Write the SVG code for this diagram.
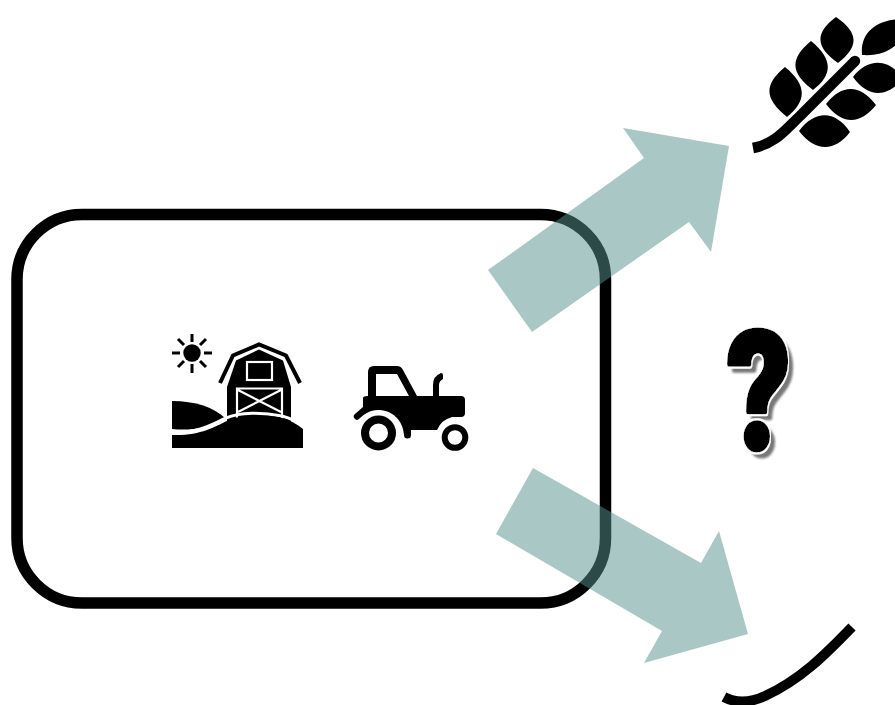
<svg xmlns="http://www.w3.org/2000/svg" width="895" height="705" viewBox="0 0 895 705">
<defs>
<style>
.ink{fill:#000}
.gap{fill:none;stroke:#fff;stroke-width:2.2}
.ray{stroke:#000;stroke-width:3;fill:none}
.arrow{fill:#56918b;fill-opacity:.51}
.q{font-family:"Roboto",sans-serif;font-weight:900;font-size:166px;stroke:#000;stroke-width:5px;stroke-linejoin:round}
</style>
<filter id="soft" x="-5%" y="-5%" width="110%" height="110%"><feGaussianBlur stdDeviation=".45"/></filter>
<filter id="qshadow" x="-30%" y="-20%" width="160%" height="140%">
<feMorphology in="SourceAlpha" operator="dilate" radius="1.500" result="halo"/>
<feFlood flood-color="#fff" result="w"/>
<feComposite in="w" in2="halo" operator="in" result="white"/>
<feOffset in="SourceAlpha" dx="7" dy="6" result="off"/>
<feGaussianBlur in="off" stdDeviation="1.300" result="bl"/>
<feFlood flood-color="#777" result="g"/>
<feComposite in="g" in2="bl" operator="in" result="grey"/>
<feMerge><feMergeNode in="grey"/><feMergeNode in="white"/><feMergeNode in="SourceGraphic"/></feMerge>
</filter>
</defs>
<rect width="895" height="705" fill="#fff"/>
<g id="farm-boundary"><rect x="17" y="214.5" width="588.5" height="388.5" rx="65" ry="65" fill="none" stroke="#000" stroke-width="11.5"/></g>
<g id="barn-icon" filter="url(#soft)">
<circle class="ink" cx="192" cy="353" r="8.700"/>
<path class="ray" d="M172 353H180M204 353H212M192 334V342M192 364V373M178 339L184 345M206 339L200 345M178 367L184 361M206 367L200 361"/>
<path d="M220 383L233 355.500L259 344.500L286 355.500L300 383" fill="none" stroke="#000" stroke-width="4"/>
<path class="ink" d="M227 425V387L236 360.500L259 349.500L283 360.500L291 387V425Z"/>
<rect class="gap" x="247" y="362" width="25" height="18"/>
<path class="gap" d="M237 420V388.500H282V420M238 390L281 412M281 390L238 412"/>
<path class="ink" d="M172 401C195 401 214 407 226 419C210 428 190 431 172 429Z"/>
<path d="M172 432C200 433 212 424 226 418C240 412 262 412 282 416C290 418 298 422 306 428" fill="none" stroke="#fff" stroke-width="3"/>
<path class="ink" d="M172 435C200 436 214 427 227 421C240 415 262 414 282 418C290 420 297 424 303 429V448H172Z"/>
</g>
<g id="tractor-icon" filter="url(#soft)">
<path class="ink" fill-rule="evenodd" d="M368 396V372Q368 366 374 366H397Q401 366 403 370L417 396H461Q465 396 465 400V413Q465 417 461 417H452Q441 420 437 430H411V435A3.500 3.500 0 0 1 404 435C403 420 392 410 378 410C370 410 364 414 359 419A3 3 0 0 1 355 414L363 407V398Q363 396 368 396ZM376 374V396H409L397 374Z"/>
<path class="ink" d="M433 397V385Q433 376 441 373Q443 373 443 375V379Q439 381 439 385V397Z"/>
<circle cx="378.500" cy="433" r="13.500" fill="none" stroke="#000" stroke-width="8"/>
<circle cx="455" cy="437.500" r="10.300" fill="none" stroke="#000" stroke-width="6"/>
</g>
<g id="wheat-icon" filter="url(#soft)">
<path d="M753 148C775 144 785 130 800 116L855 61" fill="none" stroke="#000" stroke-width="10.500"/>
<circle class="ink" cx="855" cy="61" r="5.200"/>
<path class="ink" d="M785 67C762 86 766 100 787 117C808 100 806 84 785 67ZM811 41C788 60 792 74 813 90C834 74 832 58 811 41ZM836 17C813 34 817 48 838 63C860 46 858 32 836 17ZM862 55C860 32 877 20 900 19V41C890 52 878 56 862 55ZM853 77C868 58 888 58 903 78C888 98 868 98 853 77ZM826 104C842 84 860 84 876 105C860 125 842 125 826 104ZM799 131C815 110 835 110 850 132C835 152 815 152 799 131Z"/>
</g>
<g id="question-mark">
<text class="q" x="0" y="0" transform="translate(727 449) scale(.75 1)" fill="#000" filter="url(#qshadow)">?</text>
</g>
<g id="empty-stem" filter="url(#soft)"><path d="M724 697C735 703 750 703 765 696C800 680 825 655 852 627" fill="none" stroke="#000" stroke-width="10"/></g>
<g id="connectors">
<polygon class="arrow" points="488,270 532,332 689,222 711,252 729,146 623,128 644,158"/>
<polygon class="arrow" points="533,468 496,534 662,631 644,663 748,634 719,531 701,563"/>
</g>
</svg>
